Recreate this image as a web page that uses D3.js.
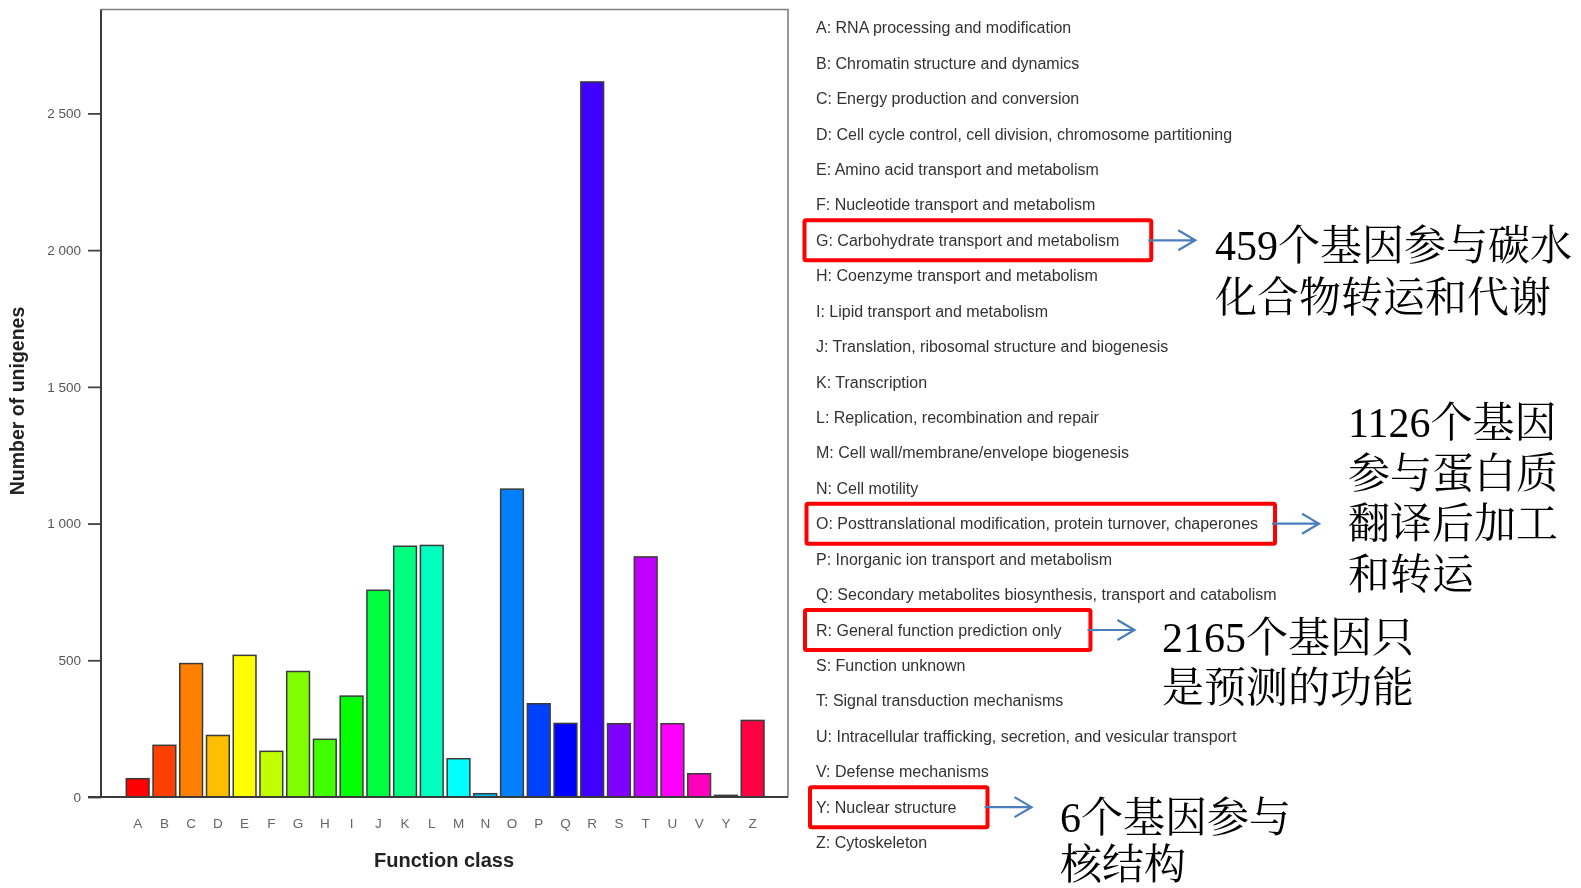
<!DOCTYPE html>
<html>
<head>
<meta charset="utf-8">
<script src="https://cdn.jsdelivr.net/npm/d3@7/dist/d3.min.js"></script>
<style>
  html, body { margin: 0; padding: 0; background: #ffffff; }
  svg { display: block; }
</style>
</head>
<body>
<svg id="chart" width="1581" height="888"></svg>
<script>
// COG function classes and number of unigenes in each
const categories = ["A","B","C","D","E","F","G","H","I","J","K","L","M","N","O","P","Q","R","S","T","U","V","Y","Z"];
const counts = [67, 189, 488, 225, 518, 167, 459, 211, 369, 756, 917, 920, 140, 12, 1126, 341, 269, 2615, 268, 878, 268, 85, 6, 280];
const barColors = ["#ff0000","#ff4000","#ff8000","#ffbf00","#ffff00","#bfff00","#80ff00","#40ff00",
                   "#00ff00","#00ff40","#00ff80","#00ffbf","#00ffff","#00bfff","#0080ff","#0040ff",
                   "#0000ff","#4000ff","#8000ff","#bf00ff","#ff00ff","#ff00bf","#ff0080","#ff0040"];
const classNames = [
  "RNA processing and modification",
  "Chromatin structure and dynamics",
  "Energy production and conversion",
  "Cell cycle control, cell division, chromosome partitioning",
  "Amino acid transport and metabolism",
  "Nucleotide transport and metabolism",
  "Carbohydrate transport and metabolism",
  "Coenzyme transport and metabolism",
  "Lipid transport and metabolism",
  "Translation, ribosomal structure and biogenesis",
  "Transcription",
  "Replication, recombination and repair",
  "Cell wall/membrane/envelope biogenesis",
  "Cell motility",
  "Posttranslational modification, protein turnover, chaperones",
  "Inorganic ion transport and metabolism",
  "Secondary metabolites biosynthesis, transport and catabolism",
  "General function prediction only",
  "Function unknown",
  "Signal transduction mechanisms",
  "Intracellular trafficking, secretion, and vesicular transport",
  "Defense mechanisms",
  "Nuclear structure",
  "Cytoskeleton"
];
const yTicks = [0, 500, 1000, 1500, 2000, 2500];
const yTitle = "Number of unigenes";
const xTitle = "Function class";

// Highlighted classes and their callout notes
const highlighted = ["G", "O", "R", "Y"];
const calloutLines = [
  ["459个基因参与碳水", "化合物转运和代谢"],
  ["1126个基因", "参与蛋白质", "翻译后加工", "和转运"],
  ["2165个基因只", "是预测的功能"],
  ["6个基因参与", "核结构"]
];

// ---------- layout ----------
const plot = { left: 101, right: 788, top: 9.5, bottom: 797 };
const svg = d3.select("#chart");

const defs = svg.append("defs");
defs.append("filter").attr("id", "soft")
  .attr("x", "-5%").attr("y", "-5%").attr("width", "110%").attr("height", "110%")
  .append("feGaussianBlur").attr("stdDeviation", 0.55);

const x = d3.scaleBand()
  .domain(categories)
  .range([124.3, 766.0])
  .paddingInner(0.15)
  .paddingOuter(0.075);

const y = d3.scaleLinear()
  .domain([0, 2880])
  .range([plot.bottom, plot.top]);

const fmt = d3.formatLocale({ decimal: ".", thousands: " ", grouping: [3], currency: ["", ""] }).format(",");

const chart = svg.append("g").attr("filter", "url(#soft)");

// frame: light top/right edges
chart.append("path")
  .attr("d", `M${plot.left},${plot.top}H${plot.right}V${plot.bottom}`)
  .attr("fill", "none").attr("stroke", "#808080").attr("stroke-width", 1.6);

// bars
chart.append("g").selectAll("rect")
  .data(categories)
  .join("rect")
  .attr("x", (d) => x(d))
  .attr("y", (d, i) => y(counts[i]))
  .attr("width", x.bandwidth())
  .attr("height", (d, i) => y(0) - y(counts[i]))
  .attr("fill", (d, i) => barColors[i])
  .attr("stroke", "#3a3a3a")
  .attr("stroke-width", 1.5);

// y axis
const yAxis = chart.append("g")
  .attr("transform", `translate(${plot.left},0)`)
  .call(d3.axisLeft(y).tickValues(yTicks).tickFormat(fmt).tickSize(13).tickPadding(7));
yAxis.select(".domain").remove();
yAxis.selectAll(".tick line").attr("stroke", "#444").attr("stroke-width", 1.8);
yAxis.selectAll(".tick text")
  .attr("fill", "#555").attr("font-family", "'Liberation Sans', Arial, sans-serif").attr("font-size", 13.5);

// axis lines (left and bottom)
chart.append("path")
  .attr("d", `M${plot.left},${plot.top}V${plot.bottom}M${plot.left - 13},${plot.bottom}H${plot.right}`)
  .attr("fill", "none").attr("stroke", "#3a3a3a").attr("stroke-width", 2);

// x axis labels
const xAxis = chart.append("g")
  .attr("transform", `translate(0,${plot.bottom})`)
  .call(d3.axisBottom(x).tickSize(0).tickPadding(21));
xAxis.select(".domain").remove();
xAxis.selectAll(".tick text")
  .attr("fill", "#666").attr("font-family", "'Liberation Sans', Arial, sans-serif").attr("font-size", 13.5);

// axis titles
chart.append("text")
  .attr("x", 444).attr("y", 867)
  .attr("text-anchor", "middle")
  .attr("font-family", "'Liberation Sans', Arial, sans-serif")
  .attr("font-weight", "bold").attr("font-size", 20).attr("fill", "#222")
  .text(xTitle);

chart.append("text")
  .attr("transform", "translate(24,401) rotate(-90)")
  .attr("text-anchor", "middle")
  .attr("font-family", "'Liberation Sans', Arial, sans-serif")
  .attr("font-weight", "bold").attr("font-size", 19.5).attr("fill", "#222")
  .text(yTitle);

// class legend
const legendX = 816, legendY0 = 27.7, legendStep = 35.43;
const legend = chart.append("g");
const legendText = legend.selectAll("text")
  .data(categories)
  .join("text")
  .attr("x", legendX)
  .attr("y", (d, i) => legendY0 + i * legendStep + 5.6)
  .attr("font-family", "'Liberation Sans', Arial, sans-serif")
  .attr("font-size", 16)
  .attr("fill", "#333")
  .text((d, i) => `${d}: ${classNames[i]}`);

// ---------- callouts ----------
const notes = svg.append("g");
const boxPad = { G: 32, O: 17, R: 29, Y: 31 };
const boxLeft = { G: 804.5, O: 806.5, R: 805, Y: 810 };
const noteAnchor = [
  { x: 1215, y: 245, step: 52 },
  { x: 1348, y: 422, step: 50.5 },
  { x: 1162, y: 637, step: 50 },
  { x: 1060, y: 817, step: 47 }
];

highlighted.forEach((code, k) => {
  const i = categories.indexOf(code);
  const node = legendText.nodes()[i];
  const textEnd = legendX + node.getComputedTextLength();
  const cy = legendY0 + i * legendStep;
  const x0 = boxLeft[code], x1 = textEnd + boxPad[code];

  notes.append("rect")
    .attr("x", x0).attr("y", cy - 20)
    .attr("width", x1 - x0).attr("height", 40)
    .attr("rx", 1.5)
    .attr("fill", "none").attr("stroke", "#ff0000").attr("stroke-width", 4);

  const ax0 = x1 - 3, ax1 = ax0 + 47;
  notes.append("path")
    .attr("d", `M${ax0},${cy}H${ax1}M${ax1 - 17},${cy - 10}L${ax1},${cy}L${ax1 - 17},${cy + 10}`)
    .attr("fill", "none").attr("stroke", "#4a7ebb").attr("stroke-width", 2.2)
    .attr("stroke-linejoin", "miter");

  const a = noteAnchor[k];
  notes.append("g").selectAll("text")
    .data(calloutLines[k])
    .join("text")
    .attr("x", a.x)
    .attr("y", (d, j) => a.y + j * a.step + 15)
    .attr("font-family", "'Liberation Serif', 'Times New Roman', 'Noto Serif CJK SC', 'Noto Sans CJK SC', serif")
    .attr("font-size", 42)
    .attr("fill", "#000")
    .text((d) => d);
});
</script>
</body>
</html>
